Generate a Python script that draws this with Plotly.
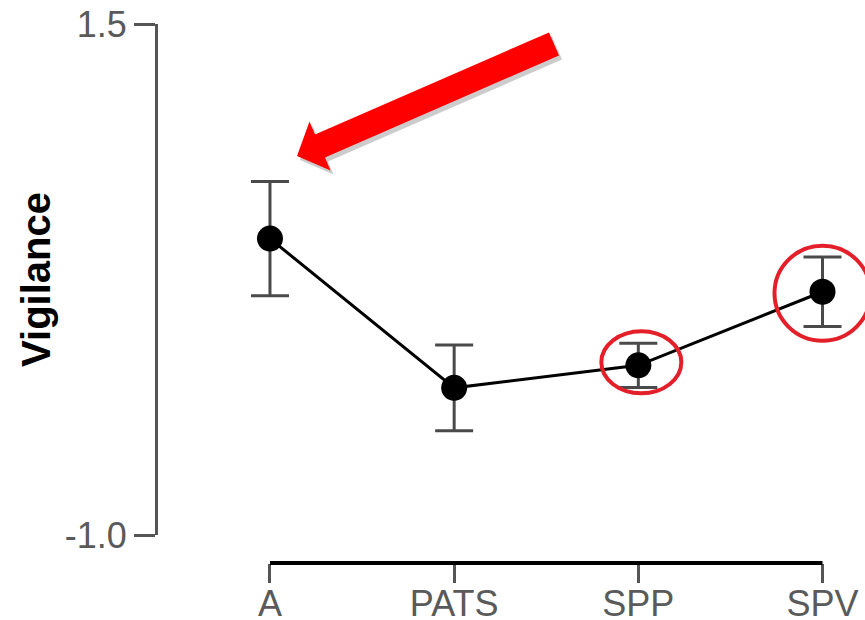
import plotly.graph_objects as go

# ---- data ----
categories = ["A", "PATS", "SPP", "SPV"]
means = [0.45, -0.28, -0.17, 0.19]
errors = [0.28, 0.21, 0.108, 0.17]
y_tick_vals = [-1.0, 1.5]
y_tick_text = ["-1.0", "1.5"]
y_title = "Vigilance"
highlighted = ["SPP", "SPV"]

W, H = 865, 620
ML, MR, MT, MB = 158, 0, 24, 57
PW, PH = W - ML - MR, H - MT - MB

FONT = "Arial, Liberation Sans, sans-serif"

fig = go.Figure()

fig.add_trace(go.Scatter(
    x=categories, y=means,
    mode="lines+markers",
    line=dict(color="black", width=3),
    marker=dict(color="black", size=26),
    error_y=dict(type="data", array=errors, visible=True,
                 color="#4a4a4a", thickness=3, width=19),
    cliponaxis=False,
    showlegend=False,
))

shapes = []
# x axis line spanning only first to last category
shapes.append(dict(type="line", xref="x", yref="paper",
                   x0=categories[0], x1=categories[-1], y0=0, y1=0,
                   line=dict(color="black", width=4), layer="above"))

# red highlight circles (pixel-sized around the data points)
circle_px = {"SPP": (-37, 43, -28, 34), "SPV": (-48, 48, -49, 46)}
for c in highlighted:
    i = categories.index(c)
    x0, x1, y0, y1 = circle_px[c]
    shapes.append(dict(type="circle", xref="x", yref="y",
                       xsizemode="pixel", ysizemode="pixel",
                       xanchor=c, yanchor=means[i],
                       x0=x0, x1=x1, y0=y0, y1=y1,
                       line=dict(color="#e3202a", width=4), layer="above"))

# big red arrow (paper coordinates converted from pixel geometry)
def to_paper(px, py):
    return (px - ML) / PW, (H - MB - py) / PH

arrow_px = [(297, 156), (330.5, 170.5), (325.0, 157.5), (559.0, 55.5),
            (549.0, 32.5), (315.0, 134.5), (309.5, 121.5)]

def path_from(points, dx=0, dy=0):
    pts = [to_paper(x + dx, y + dy) for x, y in points]
    return "M " + " L ".join(f"{a:.5f},{b:.5f}" for a, b in pts) + " Z"

shapes.append(dict(type="path", xref="paper", yref="paper",
                   path=path_from(arrow_px, 3, 4),
                   fillcolor="rgba(0,0,0,0.2)", line=dict(width=0), layer="above"))
shapes.append(dict(type="path", xref="paper", yref="paper",
                   path=path_from(arrow_px),
                   fillcolor="#ff0000", line=dict(width=0), layer="above"))

y_lo, y_hi = -1.0, 1.5
y_bottom_px = 535
fig.update_layout(
    width=W, height=H,
    margin=dict(l=ML, r=MR, t=MT, b=MB, pad=0, autoexpand=False),
    paper_bgcolor="white", plot_bgcolor="white",
    font=dict(family=FONT),
    shapes=shapes,
    xaxis=dict(
        type="category",
        range=[-(270 - ML) / 184.2, 3 + (W - 822.5) / 184.2],
        anchor="free", position=0, automargin=False,
        showline=False, showgrid=False, zeroline=False,
        ticks="outside", ticklen=19, tickwidth=3, tickcolor="#555555",
        tickfont=dict(size=36, color="#5a5a5a", family=FONT),
        ticklabelstandoff=-10,
    ),
    yaxis=dict(
        range=[y_lo, y_hi], automargin=False,
        domain=[(H - MB - y_bottom_px) / PH, 1],
        showline=True, linecolor="#555555", linewidth=3,
        showgrid=False, zeroline=False,
        tickvals=y_tick_vals, ticktext=y_tick_text,
        ticks="outside", ticklen=21, tickwidth=3, tickcolor="#555555",
        tickfont=dict(size=36, color="#5a5a5a", family=FONT),
        title=dict(text="<b>" + y_title + "</b>", standoff=2,
                   font=dict(size=40, color="black", family=FONT)),
    ),
)

fig.write_html("out.html", config={"displayModeBar": False},
               post_script="document.body.style.margin='0px';document.body.style.overflow='hidden';")
